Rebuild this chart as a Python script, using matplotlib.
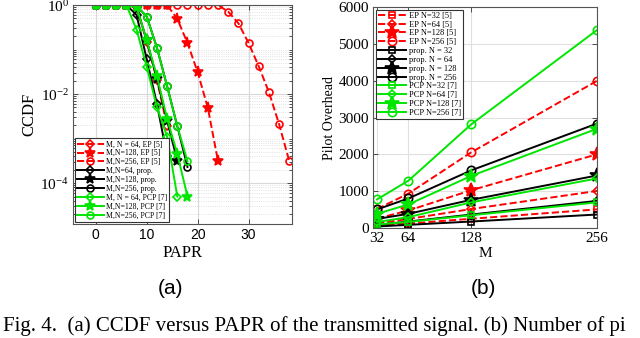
import numpy as np
import matplotlib
matplotlib.use('Agg')
import matplotlib.pyplot as plt
from matplotlib.ticker import FixedLocator, LogLocator, NullFormatter

# ---- (a) CCDF vs PAPR ----
ep64_x = [0, 2, 4, 6, 8, 10, 12, 14]
ep64 = [1, 1, 1, 1, 0.9, 0.15, 0.021, 1.9e-3]
ep128_x = [0, 2, 4, 6, 8, 10, 12, 14, 16, 18, 20, 22, 24]
ep128 = [1, 1, 1, 1, 1, 1, 1, 1, 0.49, 0.14, 0.031, 4.9e-3, 3.1e-4]
ep256_x = [0, 2, 4, 6, 8, 10, 12, 14, 16, 18, 20, 22, 24, 26, 28, 30, 32, 34, 36, 38]
ep256 = [1, 1, 1, 1, 1, 1, 1, 1, 1, 1, 1, 1, 1, 0.71, 0.39, 0.14, 0.042, 0.011, 2.1e-3, 3.1e-4]

prop64_x = [0, 2, 4, 6, 8, 10, 12, 14]
prop64 = [1, 1, 1, 1, 0.6, 0.06, 6e-3, 4e-4]
prop128_x = [0, 2, 4, 6, 8, 10, 12, 14, 16]
prop128 = [1, 1, 1, 1, 0.9, 0.16, 0.022, 2.5e-3, 3.2e-4]
prop256_x = [0, 2, 4, 6, 8, 10, 12, 14, 16, 18]
prop256 = [1, 1, 1, 1, 0.95, 0.55, 0.11, 0.015, 1.9e-3, 2.3e-4]

pcp64_x = [0, 2, 4, 6, 8, 10, 12, 14, 16]
pcp64 = [1, 1, 1, 1, 0.28, 0.041, 5.1e-3, 1.1e-3, 5e-5]
pcp128_x = [0, 2, 4, 6, 8, 10, 12, 14, 16, 18]
pcp128 = [1, 1, 1, 1, 0.9, 0.16, 0.025, 2.8e-3, 4.5e-4, 5e-5]
pcp256_x = [0, 2, 4, 6, 8, 10, 12, 14, 16, 18]
pcp256 = [1, 1, 1, 1, 0.95, 0.55, 0.11, 0.015, 1.9e-3, 3.1e-4]

# ---- (b) pilot overhead vs M ----
M = [32, 64, 128, 256]
ep_n32 = [65, 125, 255, 510]
ep_n64 = [130, 250, 520, 1010]
ep_n128 = [260, 480, 1030, 2005]
ep_n256 = [520, 940, 2060, 4000]
prop_n32 = [45, 90, 180, 370]
prop_n64 = [90, 180, 370, 740]
prop_n128 = [250, 390, 770, 1430]
prop_n256 = [508, 808, 1570, 2840]
pcp_n32 = [100, 170, 350, 700]
pcp_n64 = [165, 300, 700, 1350]
pcp_n128 = [390, 645, 1420, 2700]
pcp_n256 = [780, 1290, 2820, 5380]

RED = '#ff0000'
BLK = '#000000'
GRN = '#00e600'
serif = 'Liberation Serif'
sans = 'Liberation Sans'

fig = plt.figure(figsize=(6.4, 3.38), dpi=100)
ax1 = fig.add_axes([0.114, 0.337, 0.342, 0.648])
ax2 = fig.add_axes([0.583, 0.325, 0.350, 0.654])


def mk(ax, x, y, color, marker, ls, label, filled=False, ms=5):
    ax.plot(x, y, color=color, ls=ls, lw=1.4, marker=marker, ms=ms,
            mfc=color if filled else 'none', mec=color, mew=1.2, label=label)


# panel (a)
mk(ax1, ep64_x, ep64, RED, 'D', '--', 'M, N = 64, EP [5]', ms=4.2)
mk(ax1, ep128_x, ep128, RED, '*', '--', 'M,N=128, EP [5]', filled=True, ms=8)
mk(ax1, ep256_x, ep256, RED, 'o', '--', 'M,N=256, EP [5]')
mk(ax1, prop64_x, prop64, BLK, 'D', '-', 'M,N=64, prop.', ms=4.2)
mk(ax1, prop128_x, prop128, BLK, '*', '-', 'M,N=128, prop.', filled=True, ms=8)
mk(ax1, prop256_x, prop256, BLK, 'o', '-', 'M,N=256, prop.')
mk(ax1, pcp64_x, pcp64, GRN, 'D', '-', 'M, N = 64, PCP [7]', ms=4.2)
mk(ax1, pcp128_x, pcp128, GRN, '*', '-', 'M,N=128, PCP [7]', filled=True, ms=8)
mk(ax1, pcp256_x, pcp256, GRN, 'o', '-', 'M,N=256, PCP [7]')

ax1.set_yscale('log')
ax1.set_xlim(-4.5, 38.5)
ax1.set_ylim(1.2e-5, 1)
ax1.yaxis.set_major_locator(FixedLocator([1e-4, 1e-2, 1]))
ax1.yaxis.set_minor_locator(LogLocator(base=10, subs=np.arange(1, 10), numticks=20))
ax1.yaxis.set_minor_formatter(NullFormatter())
ax1.set_xticks([0, 10, 20, 30])
ax1.grid(True, which='major', color='#d9d9d9', lw=0.8)
ax1.grid(True, which='minor', color='#d9d9d9', lw=0.6, ls=':')
ax1.set_xlabel('PAPR', fontfamily=serif, fontsize=12, labelpad=2)
ax1.set_ylabel('CCDF', fontfamily=serif, fontsize=12, labelpad=2)
for lab in ax1.get_xticklabels():
    lab.set_fontfamily(sans)
    lab.set_fontsize(10)
for lab in ax1.get_yticklabels():
    lab.set_fontfamily(serif)
    lab.set_fontsize(11)
leg1 = ax1.legend(loc='lower left', bbox_to_anchor=(0.0, 0.0), prop={'family': serif, 'size': 5.6},
                  handlelength=3.4, handletextpad=0.3, labelspacing=0.12, borderpad=0.25,
                  borderaxespad=0.3, fancybox=False, edgecolor='#333333', framealpha=1)
leg1.get_frame().set_linewidth(0.8)

# panel (b)
mk(ax2, M, ep_n32, RED, 's', '--', 'EP N=32 [5]', ms=4.8)
mk(ax2, M, ep_n64, RED, 'D', '--', 'EP N=64 [5]', ms=4.5)
mk(ax2, M, ep_n128, RED, '*', '--', 'EP N=128 [5]', filled=True, ms=10)
mk(ax2, M, ep_n256, RED, 'o', '--', 'EP N=256 [5]', ms=6)
mk(ax2, M, prop_n32, BLK, 's', '-', 'prop. N = 32', ms=4.8)
mk(ax2, M, prop_n64, BLK, 'D', '-', 'prop. N = 64', ms=4.5)
mk(ax2, M, prop_n128, BLK, '*', '-', 'prop. N = 128', filled=True, ms=10)
mk(ax2, M, prop_n256, BLK, 'o', '-', 'prop. N = 256', ms=6)
mk(ax2, M, pcp_n32, GRN, 's', '-', 'PCP N=32 [7]', ms=4.8)
mk(ax2, M, pcp_n64, GRN, 'D', '-', 'PCP N=64 [7]', ms=4.5)
mk(ax2, M, pcp_n128, GRN, '*', '-', 'PCP N=128 [7]', filled=True, ms=10)
mk(ax2, M, pcp_n256, GRN, 'o', '-', 'PCP N=256 [7]', ms=6)

ax2.set_xlim(28, 256)
ax2.set_ylim(0, 6000)
ax2.set_xticks(M)
ax2.set_yticks(np.arange(0, 6001, 1000))
ax2.grid(True, color='#e0e0e0', lw=0.8)
ax2.set_xlabel('M', fontfamily=serif, fontsize=11, labelpad=1)
ax2.set_ylabel('Pilot Overhead', fontfamily=serif, fontsize=10, labelpad=2)
for lab in ax2.get_xticklabels() + ax2.get_yticklabels():
    lab.set_fontfamily(serif)
    lab.set_fontsize(11)
leg2 = ax2.legend(loc='upper left', bbox_to_anchor=(0.0, 1.0), prop={'family': serif, 'size': 6},
                  handlelength=3.4, handletextpad=0.3, labelspacing=0.1, borderpad=0.25,
                  borderaxespad=0.3, fancybox=False, edgecolor='#333333', framealpha=1)
leg2.get_frame().set_linewidth(0.8)

for ax in (ax1, ax2):
    ax.tick_params(which='both', direction='in', top=True, right=True, pad=3,
                   color='#333333', width=0.6)
    ax.tick_params(which='minor', length=2)
    ax.set_axisbelow(True)
    for s in ax.spines.values():
        s.set_color('#555555')
        s.set_linewidth(0.8)

fig.text(0.266, 0.145, '(a)', fontfamily=sans, fontsize=15, ha='center', va='center')
fig.text(0.755, 0.145, '(b)', fontfamily=sans, fontsize=15, ha='center', va='center')
# caption is cut at the right edge in the source; keep the visible part
fig.text(0.004, 0.035, 'Fig. 4.  (a) CCDF versus PAPR of the transmitted signal. (b) Number of pi',
         fontfamily=serif, fontsize=15, ha='left', va='center')

fig.savefig('out.png', dpi=100)
